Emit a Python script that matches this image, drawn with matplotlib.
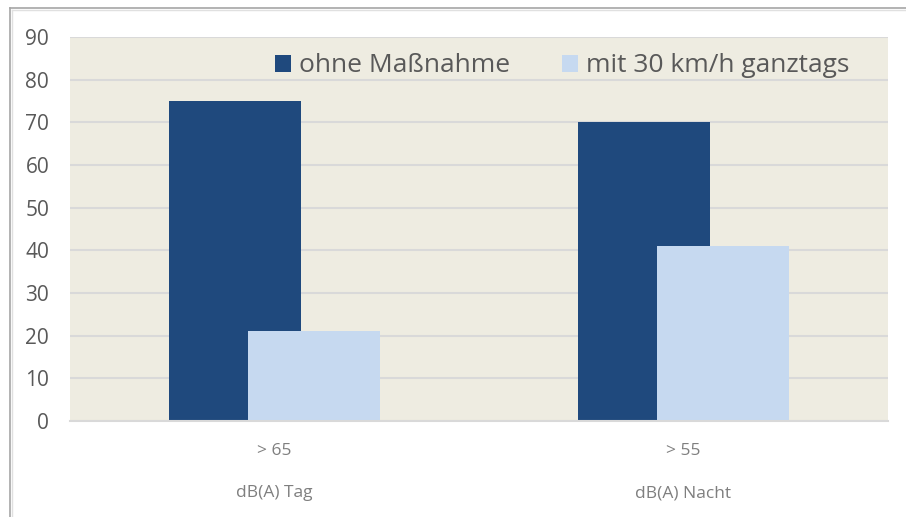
import matplotlib
matplotlib.use("Agg")
import matplotlib.pyplot as plt
from matplotlib.lines import Line2D
import numpy as np

plt.rcParams['font.family'] = ['Open Sans', 'DejaVu Sans']

thresholds = ["> 65", "> 55"]
periods = ["dB(A) Tag", "dB(A) Nacht"]
series_names = ["ohne Maßnahme", "mit 30 km/h ganztags"]
ohne = [75, 70]
mit30 = [21, 41]
yticks = [0, 10, 20, 30, 40, 50, 60, 70, 80, 90]

dark = "#1f497d"
light = "#c6d9f0"
bg = "#eeece1"
grid = "#d9d9d9"
txt = "#595959"

fig = plt.figure(figsize=(9.06, 5.17), dpi=100)
ax = fig.add_axes([70/906, 1-421/517, (888-70)/906, (421-37)/517])
ax.set_facecolor(bg)

x = np.arange(len(thresholds))
w = 0.323
off = 0.097
ax.bar(x - off, ohne, width=w, color=dark, zorder=3, label=series_names[0])
ax.bar(x + off, mit30, width=w, color=light, zorder=4, label=series_names[1])

ax.set_xlim(-0.5, 1.5)
ax.set_ylim(0, 90)
ax.set_yticks(yticks)
ax.yaxis.grid(True, color=grid, linewidth=1.5, zorder=1)
ax.set_axisbelow(True)
for s in ['left', 'right', 'top']:
    ax.spines[s].set_visible(False)
ax.spines['bottom'].set_color(grid)
ax.spines['bottom'].set_linewidth(1.5)
ax.spines['bottom'].set_zorder(5)
ax.tick_params(axis='y', length=0, pad=15, labelsize=15, labelcolor=txt)
ax.tick_params(axis='x', length=0, pad=16, labelsize=12.5, labelcolor="#7f7f7f")
ax.set_xticks(x)
ax.set_xticklabels(thresholds)
for xi, p in zip(x, periods):
    ax.text(xi, -0.1875, p, transform=ax.get_xaxis_transform(), ha='center', va='center',
            fontsize=12.5, color="#7f7f7f")

leg = ax.legend(loc='center left', bbox_to_anchor=(275/906, 1-66/517), bbox_transform=fig.transFigure,
                ncol=2, frameon=False, fontsize=19, labelcolor=txt, handlelength=0.62, handleheight=0.62,
                handletextpad=0.3, columnspacing=1.95, borderaxespad=0, borderpad=0)

# outer border
fig.add_artist(Line2D([9.5/906, 9.5/906], [0, 1-7.5/517], transform=fig.transFigure, color="#a6a6a6", lw=1.2))
fig.add_artist(Line2D([9.5/906, 1], [1-7.5/517, 1-7.5/517], transform=fig.transFigure, color="#a6a6a6", lw=1.2))
fig.add_artist(Line2D([11.5/906, 11.5/906], [0, 1-9.5/517], transform=fig.transFigure, color="#e0e0e0", lw=1.0))
fig.add_artist(Line2D([11.5/906, 1], [1-9.5/517, 1-9.5/517], transform=fig.transFigure, color="#e0e0e0", lw=1.0))

fig.savefig("out.png", dpi=100)
